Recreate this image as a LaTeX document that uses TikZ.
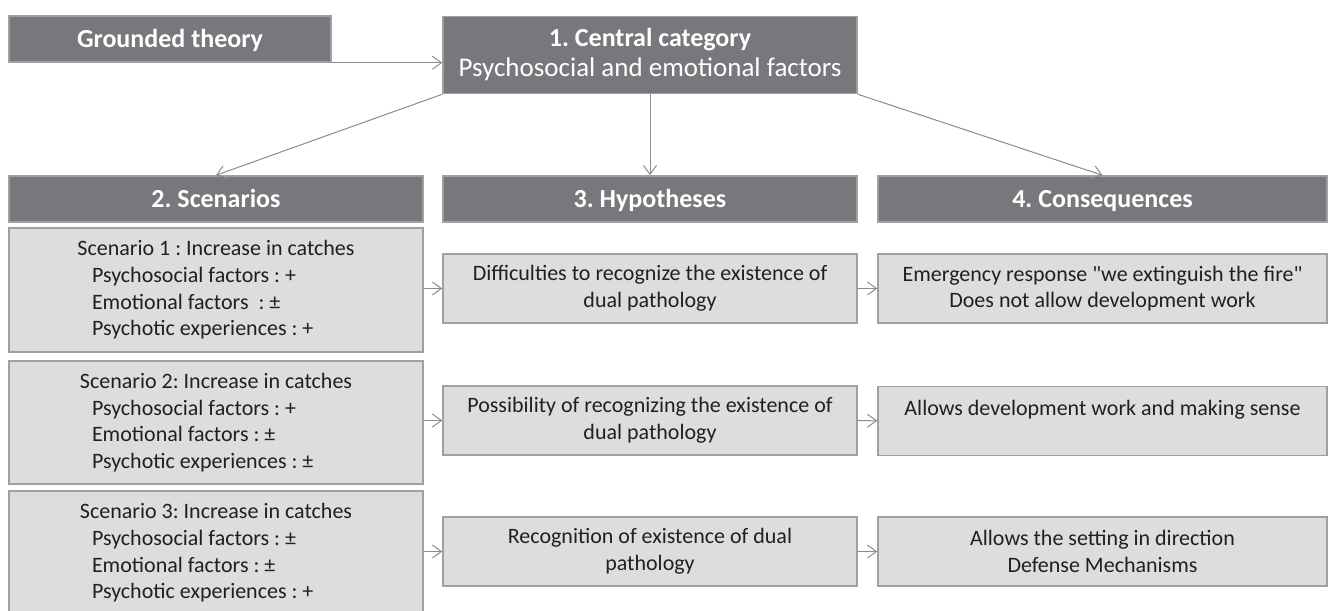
\documentclass[tikz,border=0pt]{standalone}
\usepackage{fontspec}
\setmainfont{Carlito}[Ligatures=TeXOff]
\usepackage{xcolor}
\usepackage{tikz}
\usetikzlibrary{positioning, arrows.meta}
\definecolor{headgray}{RGB}{119,120,123}
\definecolor{boxgray}{RGB}{220,221,223}
\definecolor{edgegray}{RGB}{160,160,162}
\definecolor{linegray}{RGB}{140,140,142}
\definecolor{textgray}{RGB}{35,31,32}
\newcommand{\scen}[4]{#1\\
  \makebox[248pt][l]{Psychosocial factors : #2}\\
  \makebox[248pt][l]{Emotional factors#3}\\
  \makebox[248pt][l]{Psychotic experiences : #4}}
\frenchspacing

\begin{document}
\begin{tikzpicture}[x=1pt,y=-1pt]
						\tikzstyle{head}=[draw=edgegray,line width=1.5pt,fill=headgray,text=white,font=\fontsize{26}{30}\selectfont\bfseries,inner sep=0pt,minimum height=46pt]
						\tikzstyle{title}=[head,text height=17pt,text depth=0pt]
						\tikzstyle{cell}=[draw=edgegray,line width=1.5pt,fill=boxgray,text=textgray,font=\fontsize{22}{26.7}\selectfont,align=center,inner sep=0pt]
						\tikzstyle{arr}=[draw=linegray,line width=1pt,-{Straight Barb[length=9pt,width=13pt]}]
						\useasboundingbox (0,0) rectangle (1329,610);
						\clip (0,0) rectangle (1329,610);
						\node[title,minimum width=322pt](gt) at (170,39) {Grounded theory};
						\node[head,minimum width=414pt,minimum height=77pt,align=center](cc) at (650,55) {1. Central category\\ \mdseries\fontsize{27}{30}\selectfont Psychosocial and emotional factors};
						\node[title,minimum width=414pt](hs) at (216,199) {2. Scenarios};
						\node[title,minimum width=414pt](hh) at (650,199) {3. Hypotheses};
						\node[title,minimum width=449pt](hc) at (1102.5,199) {4. Consequences};
						\node[cell,minimum width=414pt,minimum height=124pt](s1) at (216,290) {\scen{Scenario 1 : Increase in catches}{+}{\ \ : ±}{+}};
						\node[cell,minimum width=414pt,minimum height=123pt](s2) at (216,422.5) {\scen{Scenario 2: Increase in catches}{+}{ : ±}{±}};
						\node[cell,minimum width=414pt,minimum height=124pt](s3) at (216,553) {\scen{Scenario 3: Increase in catches}{±}{ : ±}{+}};
						\node[cell,minimum width=414pt,minimum height=69pt](p1) at (650,288.5) {Difficulties to recognize the existence of\\ dual pathology};
						\node[cell,minimum width=414pt,minimum height=69pt](p2) at (650,420.5) {Possibility of recognizing the existence of\\ dual pathology};
						\node[cell,minimum width=414pt,minimum height=69pt](p3) at (650,551.5) {Recognition of existence of dual\\ pathology};
						\node[cell,minimum width=449pt,minimum height=69pt](c1) at (1102.5,288.5) {Emergency response "we extinguish the fire"\\ Does not allow development work};
						\node[cell,minimum width=449pt,minimum height=69pt](c2) at (1102.5,421) {Allows development work and making sense\\ \mbox{}};
						\node[cell,minimum width=449pt,minimum height=69pt](c3) at (1102.5,551.5) {Allows the setting in direction\\ Defense Mechanisms};
						\draw[arr](gt.south east) -- (gt.south east -| cc.west);
						\draw[arr](cc.south west) -- (hs.north);
						\draw[arr](cc.south) -- (hh.north);
						\draw[arr](cc.south east) -- (hc.north);
						\draw[arr](s1.east |- p1.west) -- (p1.west);
						\draw[arr](s2.east |- p2.west) -- (p2.west);
						\draw[arr](s3.east |- p3.west) -- (p3.west);
						\draw[arr](p1) -- (c1);
						\draw[arr](p2) -- (c2);
						\draw[arr](p3) -- (c3);
					\end{tikzpicture}
\end{document}
